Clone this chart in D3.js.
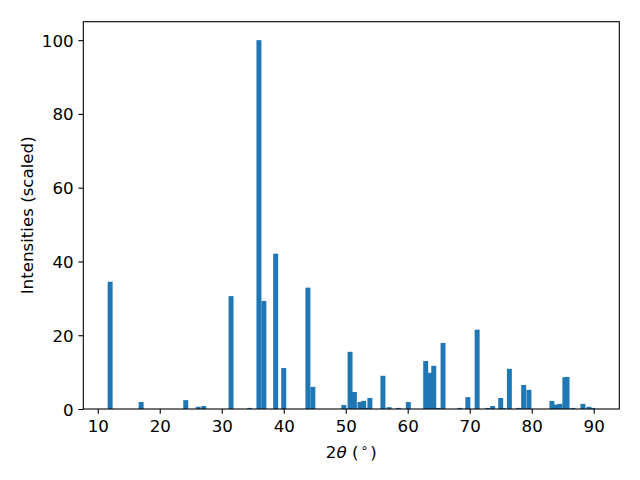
<!DOCTYPE html>
<html>
<head>
<meta charset="utf-8">
<script src="https://cdn.jsdelivr.net/npm/d3@7"></script>
<style>
  html, body { margin: 0; padding: 0; background: #ffffff; }
  svg { display: block; }
  text { font-family: "DejaVu Sans", sans-serif; fill: #000; }
</style>
</head>
<body>
<svg id="chart" width="640" height="480"></svg>
<script>
// 2-theta peak positions (degrees)
const twoTheta = [
  12.0, 17.0, 24.2, 26.2, 27.1, 31.5, 34.5, 36.0, 36.8, 38.7,
  40.0, 43.9, 44.7, 49.7, 50.7, 51.4, 52.3, 52.9, 53.2, 53.9,
  56.0, 57.0, 58.5, 60.1, 62.9, 63.6, 64.2, 64.9, 65.7, 68.4,
  69.7, 71.2, 72.9, 73.7, 75.0, 75.4, 76.4, 77.9, 78.7, 79.55,
  83.26, 83.9, 84.55, 85.35, 85.7, 86.65, 88.26, 89.23, 89.8
];
// scaled intensities
const intensity = [
  34.5, 1.9, 2.4, 0.6, 0.8, 30.6, 0.3, 100, 29.3, 42.1,
  11.1, 32.9, 6.0, 1.1, 15.5, 4.6, 1.9, 2.2, 0.3, 3.0,
  9.0, 0.5, 0.3, 1.9, 13.0, 9.8, 11.7, 0.3, 17.9, 0.3,
  3.2, 21.5, 0.3, 0.8, 3.0, 0.3, 10.9, 0.3, 6.5, 5.2,
  2.2, 1.2, 1.4, 8.6, 8.7, 0.3, 1.4, 0.6, 0.3
];
const xTicks = [10, 20, 30, 40, 50, 60, 70, 80, 90];
const yTicks = [0, 20, 40, 60, 80, 100];
const xLabelParts = ["2", "θ", " (", "∘", ")"];
const yLabel = "Intensities (scaled)";

const barWidth = 0.8;
const W = 640, H = 480;
const margin = { left: 83.3, right: 20.7, top: 21.7, bottom: 71 };
const fs = 16.67;
const tickLen = 4.86;

const svg = d3.select("#chart");
const data = twoTheta.map((x, i) => ({ x, y: intensity[i] }));

// matplotlib-style 5% margins
const lo = d3.min(twoTheta) - barWidth / 2;
const hi = d3.max(twoTheta) + barWidth / 2;
const pad = (hi - lo) * 0.05;
const x = d3.scaleLinear().domain([lo - pad, hi + pad]).range([margin.left, W - margin.right]);
const ymax = d3.max(intensity);
const y = d3.scaleLinear().domain([0, ymax * 1.05]).range([H - margin.bottom, margin.top]);

// bars
svg.append("g").selectAll("rect").data(data).join("rect")
  .attr("x", d => x(d.x - barWidth / 2))
  .attr("width", d => x(d.x + barWidth / 2) - x(d.x - barWidth / 2))
  .attr("y", d => y(d.y))
  .attr("height", d => y(0) - y(d.y))
  .attr("fill", "#1f77b4");

// x axis
const gx = svg.append("g")
  .attr("transform", `translate(0,${H - margin.bottom})`)
  .call(d3.axisBottom(x).tickValues(xTicks).tickSize(tickLen).tickPadding(4.86).tickFormat(d3.format("d")));
gx.select(".domain").remove();
gx.selectAll(".tick line").attr("stroke", "#000").attr("stroke-width", 1.1);
gx.selectAll(".tick text")
  .attr("font-family", "DejaVu Sans").attr("font-size", fs)
  .attr("y", 22.7).attr("dy", null).attr("fill", "#000");

// y axis
const gy = svg.append("g")
  .attr("transform", `translate(${margin.left},0)`)
  .call(d3.axisLeft(y).tickValues(yTicks).tickSize(tickLen).tickPadding(4.86).tickFormat(d3.format("d")));
gy.select(".domain").remove();
gy.selectAll(".tick line").attr("stroke", "#000").attr("stroke-width", 1.1);
gy.selectAll(".tick text")
  .attr("font-family", "DejaVu Sans").attr("font-size", fs)
  .attr("dy", "0.36em").attr("fill", "#000");

// frame (spines)
svg.append("rect")
  .attr("x", margin.left).attr("y", margin.top)
  .attr("width", W - margin.left - margin.right)
  .attr("height", H - margin.top - margin.bottom)
  .attr("fill", "none").attr("stroke", "#000").attr("stroke-width", 1.1);

// x label
const xl = svg.append("text")
  .attr("x", (margin.left + W - margin.right) / 2)
  .attr("y", 458.3)
  .attr("text-anchor", "middle")
  .attr("font-size", fs);
xl.append("tspan").text(xLabelParts[0]);
xl.append("tspan").attr("font-style", "italic").text(xLabelParts[1]);
xl.append("tspan").text(xLabelParts[2]);
xl.append("tspan").attr("font-size", fs * 0.75).attr("dx", 2).attr("dy", -6).text(xLabelParts[3]);
xl.append("tspan").attr("dx", 2).attr("dy", 6).text(xLabelParts[4]);

// y label
svg.append("text")
  .attr("transform", `translate(32.7,${(margin.top + H - margin.bottom) / 2}) rotate(-90)`)
  .attr("text-anchor", "middle")
  .attr("font-size", fs)
  .text(yLabel);
</script>
</body>
</html>
